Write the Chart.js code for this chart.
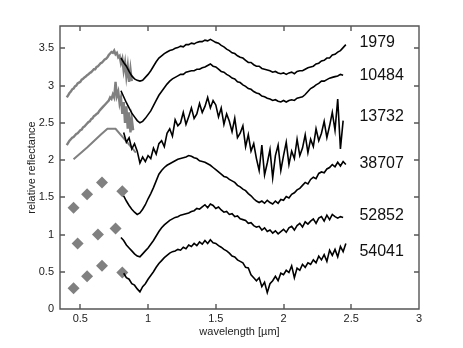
<!DOCTYPE html>
<html>
<head>
<meta charset="utf-8">
<script src="https://cdn.jsdelivr.net/npm/chart.js@4"></script>
<style>
  html, body { margin: 0; padding: 0; background: #fff; }
</style>
</head>
<body>
<canvas id="spectraChart" width="463" height="348"></canvas>
<script>
// near-IR wavelengths (um) shared by the black spectra
const wave = [
  0.80, 0.82, 0.84, 0.86, 0.88, 0.90, 0.92, 0.94, 0.96, 0.98,
  1.00, 1.02, 1.04, 1.06, 1.08, 1.10, 1.12, 1.14, 1.16, 1.18,
  1.20, 1.22, 1.24, 1.26, 1.28, 1.30, 1.32, 1.34, 1.36, 1.38,
  1.40, 1.42, 1.44, 1.46, 1.48, 1.50, 1.52, 1.54, 1.56, 1.58,
  1.60, 1.62, 1.64, 1.66, 1.68, 1.70, 1.72, 1.74, 1.76, 1.78,
  1.80, 1.82, 1.84, 1.86, 1.88, 1.90, 1.92, 1.94, 1.96, 1.98,
  2.00, 2.02, 2.04, 2.06, 2.08, 2.10, 2.12, 2.14, 2.16, 2.18,
  2.20, 2.22, 2.24, 2.26, 2.28, 2.30, 2.32, 2.34, 2.36, 2.38,
  2.40, 2.42, 2.44, 2.46
];

const r1979 = [
  3.37, 3.31, 3.26, 3.19, 3.13, 3.09, 3.07, 3.06, 3.07, 3.11,
  3.15, 3.20, 3.26, 3.32, 3.37, 3.40, 3.43, 3.45, 3.47, 3.48,
  3.50, 3.51, 3.53, 3.52, 3.55, 3.55, 3.57, 3.56, 3.58, 3.59,
  3.59, 3.61, 3.60, 3.62, 3.60, 3.58, 3.57, 3.54, 3.52, 3.49,
  3.47, 3.44, 3.43, 3.40, 3.38, 3.37, 3.34, 3.31, 3.31, 3.28,
  3.26, 3.26, 3.23, 3.22, 3.21, 3.20, 3.18, 3.19, 3.17, 3.16,
  3.17, 3.15, 3.17, 3.18, 3.16, 3.19, 3.20, 3.20, 3.22, 3.24,
  3.25, 3.26, 3.29, 3.30, 3.33, 3.34, 3.37, 3.37, 3.41, 3.42,
  3.45, 3.47, 3.51, 3.55
];

const r10484 = [
  2.93, 2.85, 2.77, 2.70, 2.63, 2.58, 2.53, 2.50, 2.52, 2.56,
  2.61, 2.66, 2.73, 2.80, 2.87, 2.92, 2.97, 3.02, 3.06, 3.09,
  3.11, 3.13, 3.15, 3.15, 3.18, 3.19, 3.20, 3.20, 3.22, 3.22,
  3.24, 3.25, 3.27, 3.29, 3.26, 3.25, 3.22, 3.19, 3.18, 3.15,
  3.13, 3.10, 3.09, 3.05, 3.04, 3.01, 2.99, 2.96, 2.95, 2.92,
  2.90, 2.89, 2.86, 2.85, 2.83, 2.82, 2.80, 2.81, 2.79, 2.78,
  2.80, 2.78, 2.80, 2.81, 2.80, 2.83, 2.84, 2.85, 2.88, 2.92,
  2.96, 2.98, 3.01, 3.03, 3.06, 3.06, 3.08, 3.10, 3.11, 3.12,
  3.13, 3.15, 3.14, null
];

const r13732 = [
  null, 2.37, 2.24, 2.30, 2.15, 2.22, 2.12, 1.96, 2.04, 1.98,
  2.06, 2.02, 2.16, 2.08, 2.22, 2.26, 2.18, 2.36, 2.42, 2.32,
  2.54, 2.46, 2.50, 2.64, 2.48, 2.58, 2.70, 2.56, 2.62, 2.76,
  2.64, 2.72, 2.84, 2.70, 2.80, 2.74, 2.58, 2.70, 2.48, 2.62,
  2.52, 2.38, 2.56, 2.30, 2.36, 2.46, 2.18, 2.34, 2.12, 2.22,
  2.02, 1.86, 2.20, 1.80, 1.96, 2.14, 1.76, 2.06, 2.20, 1.86,
  2.06, 2.24, 1.94, 2.12, 2.02, 2.28, 2.06, 2.16, 2.34, 2.10,
  2.28, 2.18, 2.42, 2.26, 2.36, 2.52, 2.30, 2.46, 2.64, 2.40,
  2.82, 2.15, 2.53, null
];

const r38707 = [
  null, 1.52, 1.45, 1.39, 1.34, 1.30, 1.27, 1.29, 1.34, 1.40,
  1.48, 1.55, 1.63, 1.72, 1.81, 1.86, 1.90, 1.93, 1.95, 1.97,
  1.99, 2.01, 2.02, 2.03, 2.04, 2.06, 2.05, 2.03, 2.02, 1.99,
  1.98, 1.97, 1.95, 1.93, 1.90, 1.87, 1.84, 1.81, 1.78, 1.77,
  1.74, 1.72, 1.70, 1.66, 1.64, 1.61, 1.59, 1.55, 1.52, 1.48,
  1.45, 1.43, 1.45, 1.42, 1.46, 1.43, 1.41, 1.45, 1.42, 1.47,
  1.46, 1.51, 1.49, 1.54, 1.56, 1.60, 1.62, 1.66, 1.70, 1.68,
  1.74, 1.77, 1.75, 1.82, 1.84, 1.83, 1.88, 1.90, 1.94, 1.91,
  1.97, 1.92, 1.98, 1.94
];

const r52852 = [
  0.96, 0.92, 0.86, 0.82, 0.78, 0.74, 0.71, 0.70, 0.74, 0.78,
  0.82, 0.87, 0.92, 0.98, 1.04, 1.09, 1.13, 1.16, 1.19, 1.21,
  1.23, 1.24, 1.26, 1.27, 1.28, 1.29, 1.31, 1.32, 1.35, 1.34,
  1.37, 1.40, 1.36, 1.41, 1.39, 1.35, 1.37, 1.33, 1.30, 1.31,
  1.27, 1.28, 1.24, 1.25, 1.21, 1.20, 1.19, 1.15, 1.16, 1.12,
  1.10, 1.11, 1.06, 1.09, 1.04, 1.06, 1.02, 1.05, 1.01, 1.04,
  1.07, 1.03, 1.09, 1.11, 1.06, 1.12, 1.15, 1.10, 1.17, 1.14,
  1.18, 1.21, 1.15, 1.22, 1.24, 1.18, 1.26, 1.20, 1.27, 1.24,
  1.22, 1.24, 1.23, null
];

const r54041 = [
  null, 0.48, 0.42, 0.40, 0.34, 0.32, 0.27, 0.23, 0.30, 0.34,
  0.40, 0.45, 0.50, 0.56, 0.61, 0.65, 0.69, 0.72, 0.75, 0.77,
  0.78, 0.80, 0.79, 0.83, 0.81, 0.86, 0.84, 0.88, 0.85, 0.90,
  0.87, 0.92, 0.88, 0.93, 0.89, 0.88, 0.85, 0.83, 0.80, 0.78,
  0.75, 0.71, 0.70, 0.66, 0.64, 0.62, 0.56, 0.55, 0.46, 0.42,
  0.38, 0.42, 0.30, 0.36, 0.22, 0.34, 0.38, 0.44, 0.38, 0.48,
  0.46, 0.52, 0.49, 0.58, 0.42, 0.55, 0.52, 0.60, 0.56, 0.62,
  0.60, 0.66, 0.62, 0.71, 0.66, 0.73, 0.64, 0.79, 0.72, 0.80,
  0.70, 0.84, 0.77, 0.88
];

// visible spectra (gray)
const waveVis = [
  0.40, 0.41, 0.42, 0.43, 0.44, 0.45, 0.46, 0.47, 0.48, 0.49,
  0.50, 0.51, 0.52, 0.53, 0.54, 0.55, 0.56, 0.57, 0.58, 0.59,
  0.60, 0.61, 0.62, 0.63, 0.64, 0.65, 0.66, 0.67, 0.68, 0.69,
  0.70, 0.71, 0.72, 0.73, 0.74, 0.75, 0.76, 0.77, 0.78, 0.79,
  0.80, 0.81, 0.82, 0.83, 0.84, 0.85, 0.86, 0.87, 0.88, 0.89
];

const vis1979 = [
  2.84, 2.87, 2.90, 2.92, 2.95, 2.96, 2.99, 3.00, 3.03, 3.04,
  3.05, 3.08, 3.09, 3.11, 3.12, 3.14, 3.15, 3.17, 3.18, 3.20,
  3.22, 3.22, 3.25, 3.26, 3.28, 3.30, 3.31, 3.33, 3.35, 3.36,
  3.38, 3.41, 3.43, 3.45, 3.44, 3.47, 3.42, 3.44, 3.38, 3.40,
  3.30, 3.36, 3.20, 3.31, 3.12, 3.26, 3.05, 3.22, 3.06, null
];

const vis10484 = [
  2.20, 2.23, 2.26, 2.28, 2.30, 2.31, 2.33, 2.35, 2.36, 2.38,
  2.40, 2.41, 2.44, 2.45, 2.47, 2.49, 2.51, 2.52, 2.55, 2.56,
  2.59, 2.60, 2.62, 2.63, 2.66, 2.68, 2.70, 2.72, 2.74, 2.76,
  2.78, 2.80, 2.84, 2.82, 2.88, 2.84, 3.05, 2.86, 2.92, 2.76,
  2.84, 2.62, 2.78, 2.50, 2.72, 2.42, 2.64, 2.37, 2.55, 2.40
];

// smooth visible spectrum of 13732
const waveSmooth = [0.45, 0.55, 0.65, 0.70, 0.76, 0.84, 0.91];
const vis13732 = [2.01, 2.17, 2.34, 2.42, 2.42, 2.25, 2.10];

// broad-band colours (diamonds)
const bandWave38707 = [0.45, 0.55, 0.66, 0.81];
const band38707 = [1.36, 1.54, 1.70, 1.58];
const bandWave52852 = [0.48, 0.63, 0.76];
const band52852 = [0.88, 1.00, 1.08];
const bandWave54041 = [0.45, 0.55, 0.66, 0.81];
const band54041 = [0.28, 0.44, 0.58, 0.49];

// asteroid numbers written at the right
const asteroidNames = ['1979', '10484', '13732', '38707', '52852', '54041'];
const nameY = [3.58, 3.13, 2.58, 1.95, 1.26, 0.77];
const nameX = 2.56;

const xTicks = [0.5, 1, 1.5, 2, 2.5, 3];
const yTicks = [0, 0.5, 1, 1.5, 2, 2.5, 3, 3.5];

const GRAY = '#808080';
const AXIS = '#555555';
const FONT = "'Liberation Sans', Arial, Helvetica, sans-serif";

function toPoints(xs, ys) {
    const pts = [];
    xs.forEach((x, i) => {
        if (ys[i] !== null) pts.push({ x: x, y: ys[i] });
    });
    return pts;
}

function lineSet(xs, ys, color, width) {
    return {
        data: toPoints(xs, ys),
        showLine: true,
        borderColor: color,
        borderWidth: width,
        pointRadius: 0,
        tension: 0
    };
}

function diamondSet(xs, ys) {
    return {
        data: toPoints(xs, ys),
        showLine: false,
        pointStyle: 'rectRot',
        pointRadius: 6,
        backgroundColor: GRAY,
        borderColor: GRAY,
        borderWidth: 0
    };
}

// box around the plot, inward ticks and the labels on the right
const framePlugin = {
    id: 'plotFrame',
    afterDraw(chart) {
        const c = chart.ctx;
        const a = chart.chartArea;
        const xs = chart.scales.x;
        const ys = chart.scales.y;
        c.save();
        c.strokeStyle = AXIS;
        c.lineWidth = 1.4;
        c.beginPath();
        c.rect(a.left, a.top, a.right - a.left, a.bottom - a.top);
        xTicks.forEach(v => {
            const px = Math.round(xs.getPixelForValue(v));
            c.moveTo(px, a.bottom); c.lineTo(px, a.bottom - 5);
            c.moveTo(px, a.top); c.lineTo(px, a.top + 5);
        });
        yTicks.forEach(v => {
            const py = Math.round(ys.getPixelForValue(v));
            c.moveTo(a.left, py); c.lineTo(a.left + 5, py);
            c.moveTo(a.right, py); c.lineTo(a.right - 5, py);
        });
        c.stroke();

        c.fillStyle = '#111';
        c.font = '16px ' + FONT;
        c.textAlign = 'left';
        c.textBaseline = 'middle';
        asteroidNames.forEach((name, i) => {
            c.fillText(name, xs.getPixelForValue(nameX), ys.getPixelForValue(nameY[i]));
        });
        c.restore();
    }
};

new Chart(document.getElementById('spectraChart'), {
    type: 'scatter',
    data: {
        datasets: [
            lineSet(wave, r1979, '#000', 1.6),
            lineSet(wave, r10484, '#000', 1.6),
            lineSet(wave, r13732, '#000', 1.6),
            lineSet(wave, r38707, '#000', 1.6),
            lineSet(wave, r52852, '#000', 1.6),
            lineSet(wave, r54041, '#000', 1.6),
            lineSet(waveVis, vis1979, GRAY, 2.4),
            lineSet(waveVis, vis10484, GRAY, 2.4),
            lineSet(waveSmooth, vis13732, GRAY, 2),
            diamondSet(bandWave38707, band38707),
            diamondSet(bandWave52852, band52852),
            diamondSet(bandWave54041, band54041)
        ]
    },
    options: {
        responsive: false,
        animation: false,
        layout: { padding: { top: 26, right: 44, left: 0, bottom: 0 } },
        plugins: {
            legend: { display: false },
            tooltip: { enabled: false }
        },
        scales: {
            x: {
                type: 'linear',
                min: 0.35,
                max: 3,
                afterBuildTicks: scale => { scale.ticks = xTicks.map(v => ({ value: v })); },
                afterFit: scale => { scale.height = 39; },
                grid: { display: false, drawTicks: false },
                border: { display: false },
                ticks: {
                    padding: 3,
                    color: '#222',
                    autoSkip: false,
                    maxRotation: 0,
                    font: { family: FONT, size: 11 },
                    callback: v => String(v)
                },
                title: {
                    display: true,
                    text: 'wavelength [µm]',
                    color: '#222',
                    font: { family: FONT, size: 11 },
                    padding: { top: 0, bottom: 9 }
                }
            },
            y: {
                type: 'linear',
                min: 0,
                max: 3.8,
                afterBuildTicks: scale => { scale.ticks = yTicks.map(v => ({ value: v })); },
                afterFit: scale => { scale.width = 60; },
                grid: { display: false, drawTicks: false },
                border: { display: false },
                ticks: {
                    padding: 6,
                    color: '#222',
                    autoSkip: false,
                    font: { family: FONT, size: 11 },
                    callback: v => String(v)
                },
                title: {
                    display: true,
                    text: 'relative reflectance',
                    color: '#222',
                    font: { family: FONT, size: 11 },
                    padding: { top: 25, bottom: 0 }
                }
            }
        }
    },
    plugins: [framePlugin]
});
</script>
</body>
</html>
